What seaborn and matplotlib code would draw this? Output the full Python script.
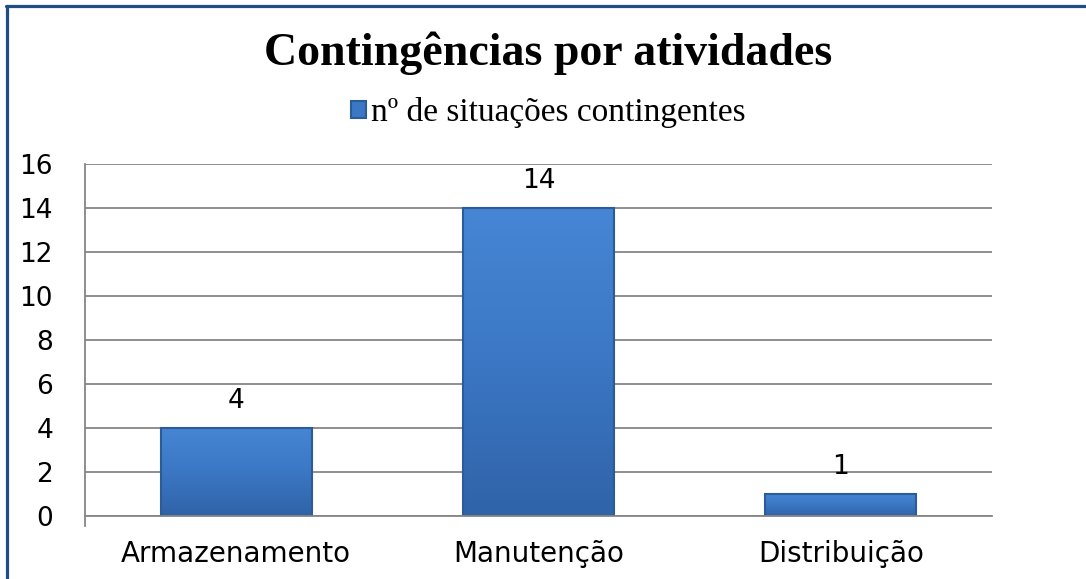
import matplotlib.pyplot as plt
from matplotlib.lines import Line2D
from matplotlib.colors import LinearSegmentedColormap
import seaborn as sns
import pandas as pd
import numpy as np

# dados do gráfico
categorias = ["Armazenamento", "Manutenção", "Distribuição"]
situacoes = [4, 14, 1]
serie = "nº de situações contingentes"
titulo = "Contingências por atividades"
yticks = [0, 2, 4, 6, 8, 10, 12, 14, 16]

sns.set_style("white")
plt.rcParams['font.family'] = ['DejaVu Sans']
plt.rcParams['text.color'] = 'black'
plt.rcParams['xtick.labelcolor'] = 'black'
plt.rcParams['ytick.labelcolor'] = 'black'

fig = plt.figure(figsize=(10.86, 5.79), dpi=100)
ax = fig.add_axes([0.0783, 0.1088, 0.835, 0.608])

df = pd.DataFrame({"atividade": categorias, "n": situacoes})
sns.barplot(data=df, x="atividade", y="n", color="#3b77c4", saturation=1,
            width=0.5, edgecolor="#2b5c97", linewidth=1.5, label=serie, ax=ax)

# gradiente nas barras (efeito do Excel)
cmap = LinearSegmentedColormap.from_list("barra", ["#3063a8", "#3b77c4", "#4686d4"])
grad = np.linspace(0, 1, 256).reshape(-1, 1)
for p in ax.containers[0]:
    x0, y0, w, h = p.get_x(), p.get_y(), p.get_width(), p.get_height()
    im = ax.imshow(grad, cmap=cmap, extent=[x0, x0 + w, y0, y0 + h], origin="lower",
                   aspect="auto", zorder=1.5, interpolation="bilinear")
    im.set_clip_path(p)
    p.set_facecolor("none")
    p.set_zorder(2)

ax.set_ylim(0, 16)
ax.set_xlim(-0.5, 2.5)
ax.set_yticks(yticks)
ax.set_xlabel("")
ax.set_ylabel("")

# grade e eixos
ax.set_axisbelow(True)
ax.yaxis.grid(True, color="#868686", linewidth=1.3)
for s in ["top", "right"]:
    ax.spines[s].set_visible(False)
ax.spines["left"].set_color("#868686")
ax.spines["left"].set_linewidth(1.3)
ax.spines["left"].set_bounds(-0.45, 16)
ax.spines["bottom"].set_color("#868686")
ax.spines["bottom"].set_linewidth(1.3)

ax.tick_params(axis="y", length=12, width=1.3, color="#868686", labelsize=19, pad=11)
ax.tick_params(axis="x", which="major", length=0, labelsize=20, pad=17)
ax.set_xticks([0.5, 1.5, 2.5], minor=True)
ax.tick_params(axis="x", which="minor", length=8, width=1.3, color="#868686", direction="out")

ax.bar_label(ax.containers[0], padding=10, fontsize=19, color="black")

# legenda e título
leg = ax.legend(loc="center", bbox_to_anchor=(0.505, 0.805), bbox_transform=fig.transFigure,
                frameon=False, prop={"family": "Liberation Serif", "size": 24},
                handlelength=0.45, handleheight=0.45, handletextpad=0.15)
for h in leg.legend_handles:
    h.set_facecolor("#3b77c4")
fig.text(0.505, 0.908, titulo, ha="center", va="center", color="black",
         family="Liberation Serif", weight="bold", size=33)

# moldura
borda = "#1f4e85"
fig.add_artist(Line2D([0.0064, 0.0064], [0, 0.9896], color=borda, linewidth=2.3, transform=fig.transFigure))
fig.add_artist(Line2D([0.0055, 1], [0.9896, 0.9896], color=borda, linewidth=2.3, transform=fig.transFigure))

fig.savefig("out.png", dpi=100)
